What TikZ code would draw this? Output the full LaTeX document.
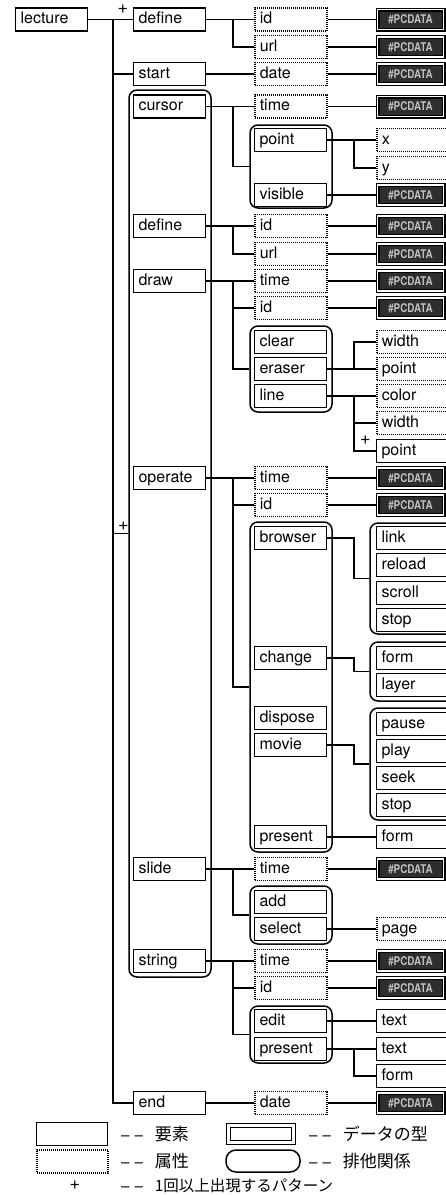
\documentclass[tikz,border=0pt]{standalone}
\usepackage{fontspec}
\setmainfont{TeX Gyre Heros}
\newfontfamily\jp{Noto Sans CJK JP}
\usetikzlibrary{fit,calc}
\tikzset{
  lbl/.style={font=\fontsize{16}{16}\selectfont, text height=11pt, text depth=3pt,
    inner ysep=4.5pt, inner xsep=5pt, align=left, anchor=west},
  elem/.style={lbl, draw, line width=1.2pt, text width=62pt},
  elemcut/.style={lbl, draw, line width=1.2pt, text width=80pt},
  attr/.style={lbl, draw, line width=1.5pt, dash pattern=on 1pt off 1pt, text width=62pt},
  attrcut/.style={lbl, draw, line width=1.5pt, dash pattern=on 1pt off 1pt, text width=80pt},
  pcdata/.style={draw, line width=1.1pt, double=white, double distance=1.8pt, fill=black!82,
    minimum width=66pt, minimum height=20pt, inner sep=0pt, anchor=center,
    text=white!75!black, font=\fontsize{12}{12}\selectfont\bfseries},
  grp/.style={draw, line width=1.5pt, rounded corners=8pt, inner sep=0pt},
  conn/.style={line width=1.4pt},
  plus/.style={font=\fontsize{18}{18}\selectfont, inner sep=0pt},
  legtxt/.style={anchor=west, inner sep=0pt, font=\fontsize{15}{15}\selectfont},
}
\newcommand{\pcd}{\scalebox{0.82}[1]{\#PCDATA}}
\begin{document}
\begin{tikzpicture}[x=1pt,y=-1pt]
\useasboundingbox (0,0) rectangle (446,1195);
\clip (0,0) rectangle (446,1195);
\coordinate (vA) at (113,0);
\coordinate (vC) at (233,0);
\coordinate (vD) at (354,0);

% column A / B
\node[elem] (lecture) at (15,19.5) {lecture};
\node[elem] (define) at (133,19.5) {define};
\node[elem] (start) at (133,74) {start};
\node[elem] (cursor) at (133,106.5) {cursor};
\node[elem] (define2) at (133,226) {define};
\node[elem] (draw) at (133,281) {draw};
\node[elem] (operate) at (133,478) {operate};
\node[elem] (slide) at (133,869) {slide};
\node[elem] (string) at (133,961) {string};
\node[elem] (end) at (133,1103) {end};
\node[grp, fit={(129,90) (211,977)}] (gB) {};

% column C
\node[attr] (idA) at (254,19.5) {id};
\node[attr] (urlA) at (254,47) {url};
\node[attr] (dateA) at (254,74) {date};
\node[attr] (timeC) at (254,106.5) {time};
\node[elem] (point) at (254,140) {point};
\node[elem] (visible) at (254,195) {visible};
\node[grp, fit={(250,125) (332,208)}] (gPV) {};
\node[attr] (idD) at (254,226) {id};
\node[attr] (urlD) at (254,254) {url};
\node[attr] (timeDr) at (254,281) {time};
\node[attr] (idDr) at (254,308) {id};
\node[elem] (clear) at (254,342) {clear};
\node[elem] (eraser) at (254,369) {eraser};
\node[elem] (line) at (254,396) {line};
\node[grp, fit={(250,326) (332,412)}] (gDr) {};
\node[attr] (timeO) at (254,478) {time};
\node[attr] (idO) at (254,505) {id};
\node[elem] (browser) at (254,538) {browser};
\node[elem] (change) at (254,658) {change};
\node[elem] (dispose) at (254,718) {dispose};
\node[elem] (movie) at (254,745) {movie};
\node[elem] (presentO) at (254,837) {present};
\node[grp, fit={(250,522) (332,852)}] (gO) {};
\node[attr] (timeS) at (254,869) {time};
\node[elem] (add) at (254,902) {add};
\node[elem] (select) at (254,929) {select};
\node[grp, fit={(250,886) (332,944)}] (gS) {};
\node[attr] (timeSt) at (254,961) {time};
\node[attr] (idSt) at (254,988) {id};
\node[elem] (edit) at (254,1021) {edit};
\node[elem] (presentSt) at (254,1049) {present};
\node[grp, fit={(250,1006) (332,1063)}] (gSt) {};
\node[attr] (dateE) at (254,1103) {date};

% column D
\node[pcdata] (pc1) at (410.5,19.5) {\pcd};
\node[pcdata] (pc2) at (410.5,47) {\pcd};
\node[pcdata] (pc3) at (410.5,74) {\pcd};
\node[pcdata] (pc4) at (410.5,106.5) {\pcd};
\node[attrcut] (xD) at (376,140) {x};
\node[attrcut] (yD) at (376,168) {y};
\node[pcdata] (pc5) at (410.5,195) {\pcd};
\node[pcdata] (pc6) at (410.5,226) {\pcd};
\node[pcdata] (pc7) at (410.5,254) {\pcd};
\node[pcdata] (pc8) at (410.5,281) {\pcd};
\node[pcdata] (pc9) at (410.5,308) {\pcd};
\node[attrcut] (widthE) at (376,342) {width};
\node[attrcut] (pointE) at (376,369) {point};
\node[attrcut] (colorL) at (376,396) {color};
\node[attrcut] (widthL) at (376,423) {width};
\node[elemcut] (pointL) at (376,451) {point};
\node[pcdata] (pc10) at (410.5,478) {\pcd};
\node[pcdata] (pc11) at (410.5,505) {\pcd};
\node[elemcut] (link) at (376,538) {link};
\node[elemcut] (reload) at (376,565) {reload};
\node[elemcut] (scroll) at (376,593) {scroll};
\node[elemcut] (stop1) at (376,620) {stop};
\node[grp, fit={(370,523) (480,634)}] (gL) {};
\node[elemcut] (formC) at (376,658) {form};
\node[elemcut] (layer) at (376,685) {layer};
\node[grp, fit={(370,642) (480,701)}] (gF) {};
\node[elemcut] (pause) at (376,724) {pause};
\node[elemcut] (play) at (376,751) {play};
\node[elemcut] (seek) at (376,778) {seek};
\node[elemcut] (stop2) at (376,805) {stop};
\node[grp, fit={(370,708) (480,820)}] (gM) {};
\node[elemcut] (formP) at (376,837) {form};
\node[pcdata] (pc12) at (410.5,869) {\pcd};
\node[attrcut] (page) at (376,929) {page};
\node[pcdata] (pc13) at (410.5,961) {\pcd};
\node[pcdata] (pc14) at (410.5,988) {\pcd};
\node[elemcut] (text1) at (376,1021) {text};
\node[elemcut] (text2) at (376,1049) {text};
\node[elemcut] (form2) at (376,1076) {form};
\node[pcdata] (pc15) at (410.5,1103) {\pcd};

% trunk
\draw[conn] (lecture.east) -- (define.west);
\draw[conn] (lecture.east -| vA) |- (end.west);
\draw[conn] (start.west -| vA) -- (start.west);
\draw[conn] (gB.west -| vA) -- (gB.west);
\node[plus] (p1) at (123,9.5) {+};
\node[plus] (p2) at (123.5,526) {+};

% B -> C
\draw[conn] (define.east) -- (idA.west);
\draw[conn] (define.east -| vC) |- (urlA.west);
\draw[conn] (start.east) -- (dateA.west);
\draw[conn] (cursor.east) -- (timeC.west);
\draw[conn] (cursor.east -| vC) |- (gPV.west);
\draw[conn] (define2.east) -- (idD.west);
\draw[conn] (define2.east -| vC) |- (urlD.west);
\draw[conn] (draw.east) -- (timeDr.west);
\draw[conn] (draw.east -| vC) |- (gDr.west);
\draw[conn] (idDr.west -| vC) -- (idDr.west);
\draw[conn] (operate.east) -- (timeO.west);
\draw[conn] (operate.east -| vC) |- (gO.west);
\draw[conn] (idO.west -| vC) -- (idO.west);
\draw[conn] (slide.east) -- (timeS.west);
\draw[conn] (slide.east -| vC) |- (gS.west);
\draw[conn] (string.east) -- (timeSt.west);
\draw[conn] (string.east -| vC) |- (gSt.west);
\draw[conn] (idSt.west -| vC) -- (idSt.west);
\draw[conn] (end.east) -- (dateE.west);

% C -> D
\draw[conn] (idA.east) -- (pc1.west);
\draw[conn] (urlA.east) -- (pc2.west);
\draw[conn] (dateA.east) -- (pc3.west);
\draw[conn] (timeC.east) -- (pc4.west);
\draw[conn] (point.east) -- (xD.west);
\draw[conn] (point.east -| vD) |- (yD.west);
\draw[conn] (visible.east) -- (pc5.west);
\draw[conn] (idD.east) -- (pc6.west);
\draw[conn] (urlD.east) -- (pc7.west);
\draw[conn] (timeDr.east) -- (pc8.west);
\draw[conn] (idDr.east) -- (pc9.west);
\draw[conn] (eraser.east) -- (pointE.west);
\draw[conn] (eraser.east -| vD) |- (widthE.west);
\draw[conn] (line.east) -- (colorL.west);
\draw[conn] (line.east -| vD) |- (pointL.west);
\draw[conn] (widthL.west -| vD) -- (widthL.west);
\node[plus] (p3) at (365.5,440) {+};
\draw[conn] (timeO.east) -- (pc10.west);
\draw[conn] (idO.east) -- (pc11.west);
\draw[conn] (browser.east) -- (browser.east -| vD) |- (gL.west);
\draw[conn] (change.east) -- (change.east -| vD) |- (gF.west);
\draw[conn] (movie.east) -- (movie.east -| vD) |- (gM.west);
\draw[conn] (presentO.east) -- (formP.west);
\draw[conn] (timeS.east) -- (pc12.west);
\draw[conn] (select.east) -- (page.west);
\draw[conn] (timeSt.east) -- (pc13.west);
\draw[conn] (idSt.east) -- (pc14.west);
\draw[conn] (edit.east) -- (text1.west);
\draw[conn] (presentSt.east) -- (text2.west);
\draw[conn] (presentSt.east -| vD) |- (form2.west);
\draw[conn] (dateE.east) -- (pc15.west);

% legend
\node[elem, text width=61pt] (legE) at (36,1134) {};
\node[attr, text width=61pt] (legA) at (36,1161.5) {};
\node[draw, line width=1.3pt, double=white, double distance=2.5pt, minimum width=65pt,
  minimum height=17pt, inner sep=0pt] (legD) at (261,1134) {};
\node[grp, rounded corners=10pt, minimum width=74pt, minimum height=22pt] (legG) at (263,1161) {};
\node[plus] (p4) at (75,1185) {+};
\node[legtxt] (t1) at (121,1134) {–\hspace{5pt}–\hspace{12pt}{\jp\fontsize{17}{17}\selectfont 要素}};
\node[legtxt] (t2) at (121,1161) {–\hspace{5pt}–\hspace{12pt}{\jp\fontsize{17}{17}\selectfont 属性}};
\node[legtxt] (t3) at (309,1134) {–\hspace{5pt}–\hspace{12pt}{\jp\fontsize{17}{17}\selectfont データの型}};
\node[legtxt] (t4) at (309,1161) {–\hspace{5pt}–\hspace{12pt}{\jp\fontsize{17}{17}\selectfont 排他関係}};
\node[legtxt] (t5) at (121,1186) {–\hspace{5pt}–\hspace{12pt}{\jp\fontsize{15.5}{15.5}\selectfont 1回以上出現するパターン}};
\end{tikzpicture}
\end{document}
